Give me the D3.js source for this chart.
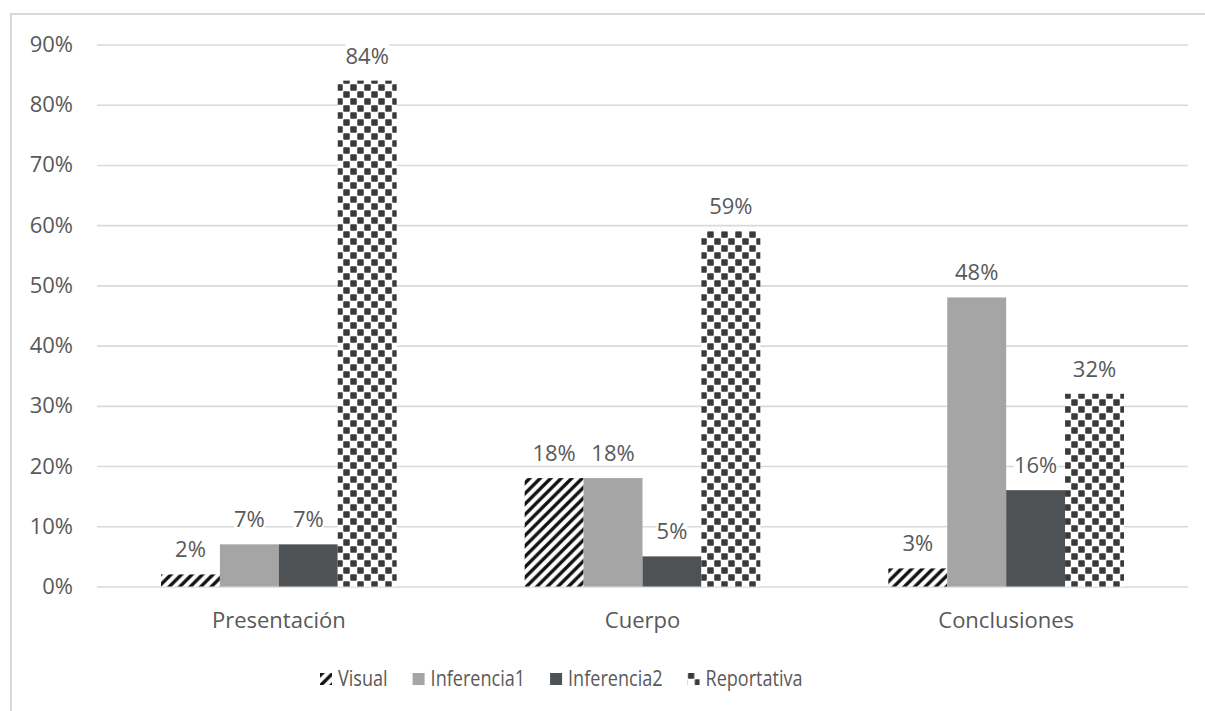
<!DOCTYPE html>
<html>
<head>
<meta charset="utf-8">
<script src="https://cdn.jsdelivr.net/npm/d3@7"></script>
<style>
  html, body { margin: 0; padding: 0; background: #fff; }
  svg { display: block; }
  text { font-family: "Open Sans", "DejaVu Sans", sans-serif; fill: #595959; }
</style>
</head>
<body>
<svg id="chart" width="1205" height="711"></svg>
<script>
// Categories, series and values
const categories = ["Presentación", "Cuerpo", "Conclusiones"];
const seriesNames = ["Visual", "Inferencia1", "Inferencia2", "Reportativa"];
const visual = [2, 18, 3];
const inferencia1 = [7, 18, 48];
const inferencia2 = [7, 5, 16];
const reportativa = [84, 59, 32];
const yTicks = [0, 10, 20, 30, 40, 50, 60, 70, 80, 90];

const seriesValues = [visual, inferencia1, inferencia2, reportativa];

const svg = d3.select("#chart");
const W = 1205, H = 711;

// outer chart frame (extends past the right and bottom edges)
svg.append("rect")
  .attr("x", 11).attr("y", 14)
  .attr("width", W + 20).attr("height", H + 20)
  .attr("fill", "#fff")
  .attr("stroke", "#d9d9d9").attr("stroke-width", 2);

// fill patterns
const defs = svg.append("defs");
const stripe = defs.append("pattern")
  .attr("id", "pat-visual")
  .attr("patternUnits", "userSpaceOnUse")
  .attr("width", 10.5).attr("height", 10.5);
stripe.append("rect").attr("width", 10.5).attr("height", 10.5).attr("fill", "#fff");
stripe.append("path")
  .attr("d", "M-2.625,2.625 L2.625,-2.625 M0,10.5 L10.5,0 M7.875,13.125 L13.125,7.875")
  .attr("stroke", "#111").attr("stroke-width", 3.4).attr("stroke-linecap", "square");

const checker = defs.append("pattern")
  .attr("id", "pat-report")
  .attr("patternUnits", "userSpaceOnUse")
  .attr("width", 14).attr("height", 14);
checker.append("rect").attr("width", 14).attr("height", 14).attr("fill", "#fff");
checker.append("rect").attr("x", 0.25).attr("y", 0.25).attr("width", 6.5).attr("height", 6.5)
  .attr("rx", 0.8).attr("fill", "#3a3a3a");
checker.append("rect").attr("x", 7.25).attr("y", 7.25).attr("width", 6.5).attr("height", 6.5)
  .attr("rx", 0.8).attr("fill", "#3a3a3a");

const fills = {
  "Visual": "url(#pat-visual)",
  "Inferencia1": "#a5a5a5",
  "Inferencia2": "#4f5254",
  "Reportativa": "url(#pat-report)"
};

// plot area
const plot = { left: 97, right: 1188, top: 44.5, bottom: 586.5 };

const y = d3.scaleLinear().domain([0, 90]).range([plot.bottom, plot.top]);
const x0 = d3.scaleBand().domain(categories)
  .range([plot.left, plot.right])
  .paddingInner(0.352).paddingOuter(0.176);
const x1 = d3.scaleBand().domain(seriesNames).range([0, x0.bandwidth()]);

// y axis with gridlines
const yAxis = svg.append("g")
  .attr("transform", `translate(${plot.left},0)`)
  .call(d3.axisLeft(y)
    .tickValues(yTicks)
    .tickFormat(d => d + "%")
    .tickSize(-(plot.right - plot.left))
    .tickPadding(24));
yAxis.select(".domain").remove();
yAxis.selectAll(".tick line").attr("stroke", "#d9d9d9").attr("stroke-width", 1.6);
yAxis.selectAll(".tick text")
  .attr("font-size", 22)
  .attr("fill", "#595959")
  .style("font-family", '"Open Sans", sans-serif');

// x axis labels
const xAxis = svg.append("g")
  .attr("transform", `translate(0,${plot.bottom})`)
  .call(d3.axisBottom(x0).tickSize(0).tickPadding(26));
xAxis.select(".domain").remove();
xAxis.selectAll(".tick text")
  .attr("font-size", 22)
  .attr("fill", "#595959")
  .style("font-family", '"Open Sans", sans-serif');

// bars
const rows = [];
categories.forEach((c, i) => {
  seriesNames.forEach((s, j) => {
    rows.push({ cat: c, series: s, value: seriesValues[j][i] });
  });
});

const bars = svg.append("g");
bars.selectAll("rect")
  .data(rows)
  .join("rect")
  .attr("x", d => x0(d.cat) + x1(d.series))
  .attr("y", d => y(d.value))
  .attr("width", x1.bandwidth())
  .attr("height", d => y(0) - y(d.value))
  .attr("fill", d => fills[d.series]);

// value labels
const labels = svg.append("g");
const lab = labels.selectAll("g")
  .data(rows)
  .join("g")
  .attr("transform", d => `translate(${x0(d.cat) + x1(d.series) + x1.bandwidth() / 2},${y(d.value) - 17})`);
lab.append("rect").attr("fill", "#fff");
lab.append("text")
  .attr("text-anchor", "middle")
  .attr("font-size", 22)
  .text(d => d.value + "%");
lab.each(function () {
  const g = d3.select(this);
  const bb = g.select("text").node().getBBox();
  g.select("rect")
    .attr("x", bb.x).attr("y", bb.y + 4)
    .attr("width", bb.width).attr("height", bb.height - 8);
});

// legend
const legend = svg.append("g").attr("transform", "translate(320,686)");
let lx = 0;
seriesNames.forEach(s => {
  const item = legend.append("g").attr("transform", `translate(${lx},0)`);
  item.append("rect")
    .attr("x", 0).attr("y", -13)
    .attr("width", 12).attr("height", 12)
    .attr("fill", fills[s]);
  const t = item.append("text")
    .attr("transform", "translate(18,0) scale(0.86,1)")
    .attr("font-size", 21)
    .text(s);
  const w = t.node().getComputedTextLength() * 0.86;
  lx += 18 + w + 25;
});
</script>
</body>
</html>
